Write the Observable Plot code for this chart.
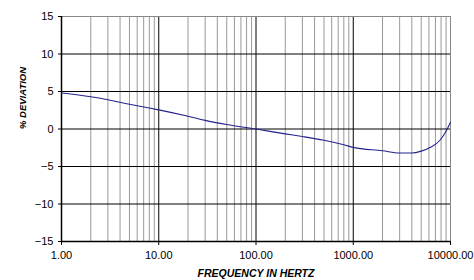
<!DOCTYPE html>
<html><head><meta charset="utf-8">
<script src="https://cdn.jsdelivr.net/npm/d3@7"></script>
<script src="https://cdn.jsdelivr.net/npm/@observablehq/plot@0.6"></script>
<style>body{margin:0;background:#fff}</style>
</head><body><div id="chart"></div>
<script>
const freq = [1,2,3,5,8,10,20,30,50,100,200,300,500,800,1000,2000,3000,4000,5000,6300,7800,9000,10000];
const deviation = [4.8,4.3,3.9,3.3,2.8,2.55,1.7,1.15,0.6,0,-0.65,-1.0,-1.5,-2.1,-2.45,-2.9,-3.2,-3.2,-2.95,-2.4,-1.5,-0.3,0.9];
const majorX = [1,10,100,1000,10000];
const yTicks = [-15,-10,-5,0,5,10,15];
const minorX = [];
for (const d of [1,10,100,1000]) for (let k=2;k<=9;k++) minorX.push(d*k);

const data = freq.map((f,i)=>({f, v: deviation[i]}));
const font = "Liberation Sans, Arial, sans-serif";

const chart = Plot.plot({
  width: 474, height: 280,
  marginLeft: 61, marginRight: 24, marginTop: 16, marginBottom: 39,
  style: {fontFamily: font, fontSize: "11px", color: "#000", background: "#fff"},
  x: {type: "log", domain: [1,10000]},
  y: {domain: [-15,15]},
  marks: [
    Plot.ruleX(minorX, {stroke: "#999", strokeWidth: 1}),
    Plot.ruleX(majorX, {stroke: "#000", strokeWidth: 1}),
    Plot.ruleY(yTicks, {stroke: "#000", strokeWidth: 1}),
    Plot.ruleY([15], {stroke: "#888", strokeWidth: 1}),
    Plot.ruleX([10000], {stroke: "#888", strokeWidth: 1}),
    Plot.ruleX([1], {stroke: "#000", strokeWidth: 1.5}),
    Plot.ruleY([-15], {stroke: "#000", strokeWidth: 1.5}),
    Plot.axisY({ticks: yTicks, tickSize: 3, tickPadding: 5, label: null, fontSize: 11}),
    Plot.axisX({ticks: majorX, tickSize: 4, tickPadding: 6, tickFormat: d3.format(".2f"), label: null, fontSize: 11}),
    Plot.line(data, {x: "f", y: "v", stroke: "#23238c", strokeWidth: 1.1, curve: "monotone-x"}),
    Plot.text(["FREQUENCY IN HERTZ"], {frameAnchor: "bottom", dy: 35, fontWeight: "bold", fontStyle: "italic", fontSize: 10.5, fill: "#000"}),
    Plot.text(["% DEVIATION"], {frameAnchor: "left", dx: -39, rotate: -90, fontWeight: "bold", fontStyle: "italic", fontSize: 9.5, fill: "#000"})
  ]
});
document.getElementById("chart").append(chart);
</script>
</body></html>
